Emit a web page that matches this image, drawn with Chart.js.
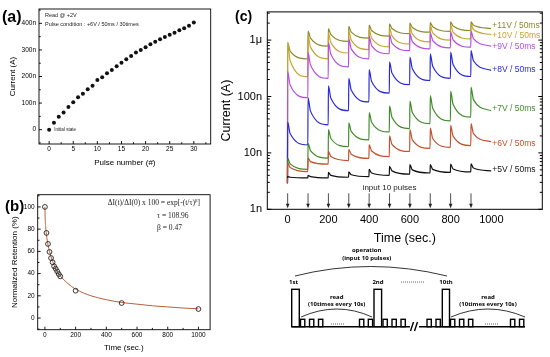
<!DOCTYPE html>
<html>
<head>
<meta charset="utf-8">
<script src="https://cdn.jsdelivr.net/npm/chart.js@4.4.1/dist/chart.umd.min.js"></script>
<style>
  body { margin: 0; width: 550px; height: 357px; background: #fff; position: relative; overflow: hidden; font-family: "Liberation Sans", Arial, sans-serif; }
  canvas, svg, .tag { position: absolute; }
  .tag { font-weight: bold; line-height: 1; }
</style>
</head>
<body>
<canvas id="chartA" width="215" height="170" style="left:0;top:0"></canvas>
<canvas id="chartB" width="215" height="187" style="left:0;top:170px"></canvas>
<canvas id="chartC" width="335" height="248" style="left:215px;top:0"></canvas>
<div class="tag" style="left:2px;top:9px;font-size:16px">(a)</div>
<div class="tag" style="left:5px;top:198px;font-size:15px">(b)</div>
<div class="tag" style="left:235px;top:9px;font-size:14px">(c)</div>

<!-- pulse scheme under panel (c) -->
<svg width="550" height="357" style="left:0;top:0" font-family="'Noto Sans', 'DejaVu Sans', sans-serif" font-weight="bold" font-size="6" text-anchor="middle" dominant-baseline="central">
  <g fill="none" stroke="#000" stroke-width="1.4">
    <path d="M291.7 326.7 H410 M419 326.7 H525"/>
    <rect x="291.7" y="289.3" width="7.6" height="37.4"/>
    <rect x="374" y="289.3" width="7.6" height="37.4"/>
    <rect x="442.3" y="289.3" width="7.2" height="37.4"/>
    <rect x="300.5" y="319.3" width="4.3" height="7.4"/>
    <rect x="309.5" y="319.3" width="4.3" height="7.4"/>
    <rect x="318.5" y="319.3" width="4.3" height="7.4"/>
    <rect x="359.5" y="319.3" width="4.3" height="7.4"/>
    <rect x="368.3" y="319.3" width="4.3" height="7.4"/>
    <rect x="383" y="319.3" width="4.3" height="7.4"/>
    <rect x="392" y="319.3" width="4.3" height="7.4"/>
    <rect x="401" y="319.3" width="4.3" height="7.4"/>
    <rect x="427" y="319.3" width="4.3" height="7.4"/>
    <rect x="436" y="319.3" width="4.3" height="7.4"/>
    <rect x="450.5" y="319.3" width="4.3" height="7.4"/>
    <rect x="459.5" y="319.3" width="4.3" height="7.4"/>
    <rect x="468.5" y="319.3" width="4.3" height="7.4"/>
    <rect x="510.5" y="319.3" width="4.3" height="7.4"/>
    <rect x="519.5" y="319.3" width="4.3" height="7.4"/>
    <path d="M410.5 331 L413.5 322 M414.5 331 L417.5 322"/>
  </g>
  <g fill="none" stroke="#000" stroke-width="0.8">
    <path d="M295 276 Q370 257 447 276"/>
    <path d="M301 317 Q337 301 372 317"/>
    <path d="M451 317 Q488 301 525 317"/>
    <path d="M331 324 H344 M485 324 H499 M401 282 H425" stroke-dasharray="0.8 1.2"/>
  </g>
  <text x="366.7" y="250">operation</text>
  <text x="366.7" y="258.3">(input 10 pulses)</text>
  <text x="293.5" y="282">1st</text>
  <text x="378" y="282">2nd</text>
  <text x="446" y="282">10th</text>
  <text x="336.7" y="296.7">read</text>
  <text x="336.7" y="304">(10times every 10s)</text>
  <text x="488" y="296.7">read</text>
  <text x="488" y="304">(10times every 10s)</text>
</svg>

<script>
// ---- (a) potentiation: current after each +6V pulse, read at +2V (nA)
const pulseNumbers = [0, 1, 2, 3, 4, 5, 6, 7, 8, 9, 10, 11, 12, 13, 14, 15, 16, 17, 18, 19, 20, 21, 22, 23, 24, 25, 26, 27, 28, 29, 30];
const pulseCurrent = [0, 26, 49, 65, 85, 103, 122, 135, 152, 165, 187, 197, 212, 224, 239, 252, 265, 277, 290, 300, 310, 321, 331, 340, 349, 357, 365, 374, 382, 391, 403];
const aTicksX = [0, 5, 10, 15, 20, 25, 30];
const aTicksY = [0, 100, 200, 300, 400];

// ---- (b) retention, measured points and fitted curve (%)
const retentionTime = [0, 10, 20, 30, 40, 50, 60, 70, 80, 90, 100, 200, 500, 1000];
const retention = [100, 76.6, 66.7, 59.5, 54, 50.2, 46.6, 44.4, 42, 39.6, 37.5, 24.6, 13.5, 8.1];
const fitTime = [0, 2, 5, 10, 20, 30, 50, 75, 100, 150, 200, 300, 400, 500, 600, 700, 800, 900, 1000];
const fitValue = [100, 88, 82, 75, 66, 60, 51, 43, 38, 31, 26, 20, 16.5, 14, 12.5, 11, 10, 9, 8.3];
const bTicksX = [0, 200, 400, 600, 800, 1000];
const bTicksY = [0, 20, 40, 60, 80, 100];

// ---- (c) current under 10 pulses of each amplitude (nA)
const pulseTimes = [0, 100, 200, 300, 400, 500, 600, 700, 800, 900];
const traceEnd = 1000;
const midDelay = 12;
const curveLabels = ['+11V / 50ms', '+10V / 50ms', '+9V / 50ms', '+8V / 50ms', '+7V / 50ms', '+6V / 50ms', '+5V / 50ms'];
const curveColors = ['#8c8a2a', '#c8a632', '#b44fe0', '#2b2bd4', '#418a2c', '#c0522e', '#111111'];
const labelLevels = [1830, 1220, 775, 300, 60, 14.4, 5.0];
const startLevel = [2.9, 2.9, 2.9, 2.9, 2.9, 2.9, 3.6];
// peak right after pulse, value ~12 s later, value just before the next pulse
const peak11V = [900, 1450, 1600, 1750, 1850, 1950, 2000, 2050, 2100, 2100];
const mid11V  = [640, 1080, 1250, 1380, 1480, 1600, 1670, 1720, 1770, 1830];
const low11V  = [466, 780, 950, 1080, 1180, 1300, 1380, 1430, 1480, 1600];
const peak10V = [900, 1200, 1350, 1450, 1550, 1650, 1750, 1800, 1850, 1900];
const mid10V  = [430, 750, 900, 1000, 1090, 1190, 1280, 1340, 1390, 1540];
const low10V  = [225, 466, 590, 680, 760, 850, 930, 1000, 1050, 1250];
const peak9V  = [275, 600, 900, 1050, 1150, 1250, 1300, 1350, 1400, 1450];
const mid9V   = [160, 360, 560, 700, 800, 880, 940, 980, 1010, 1060];
const low9V   = [95, 210, 335, 466, 573, 650, 700, 730, 750, 780];
const peak8V  = [35, 95, 155, 210, 300, 410, 500, 573, 610, 650];
const mid8V   = [22, 55, 93, 130, 185, 260, 310, 345, 370, 430];
const low8V   = [13.8, 31.5, 56, 80, 115, 162, 192, 210, 226, 290];
const peak7V  = [8.1, 14.8, 26, 34, 52, 68, 83, 104, 124, 147];
const mid7V   = [6.4, 11, 18, 24, 35, 43, 52, 62, 73, 88];
const low7V   = [5.1, 8.1, 12.9, 17, 23.5, 27, 33, 37, 43, 56];
const peak6V  = [6.7, 8.1, 10.6, 11.5, 14, 20, 26, 27.5, 30.7, 33];
const mid6V   = [5.5, 7.0, 8.6, 9.5, 10.8, 14.2, 17, 18, 19.8, 22];
const low6V   = [4.65, 6.3, 7.3, 8.0, 8.6, 10.6, 12, 12.5, 13.5, 15.8];
const peak5V  = [3.8, 4.0, 4.5, 4.6, 5.1, 5.8, 6.2, 6.2, 6.3, 6.4];
const mid5V   = [3.7, 3.8, 4.0, 4.1, 4.4, 4.8, 5.0, 5.1, 5.2, 5.4];
const low5V   = [3.6, 3.6, 3.7, 3.8, 4.0, 4.2, 4.4, 4.5, 4.6, 4.8];
const cTicksX = [0, 200, 400, 600, 800, 1000];
const cTicksY = [1, 10, 100, 1000];
const inputNoteLevel = 2.4;

Chart.defaults.font.family = '"Liberation Sans", Arial, sans-serif';
Chart.defaults.color = '#000';

// frame round the plot area plus Origin style tick marks
const frameTicks = {
  id: 'frameTicks',
  afterDraw(chart, args, opts) {
    const { ctx, chartArea: a, scales } = chart;
    const dir = opts.inward ? -1 : 1;
    const line = (x1, y1, x2, y2) => { ctx.beginPath(); ctx.moveTo(x1, y1); ctx.lineTo(x2, y2); ctx.stroke(); };
    ctx.save();
    ctx.strokeStyle = '#000';
    ctx.lineWidth = opts.lineWidth || 1;
    ctx.strokeRect(a.left, a.top, a.right - a.left, a.bottom - a.top);
    (opts.x || []).forEach(([v, len]) => {
      const px = scales.x.getPixelForValue(v);
      line(px, a.bottom, px, a.bottom + dir * len);
    });
    (opts.y || []).forEach(([v, len]) => {
      const py = scales.y.getPixelForValue(v);
      line(a.left, py, a.left - dir * len, py);
      if (opts.mirror) line(a.right, py, a.right + dir * len, py);
    });
    ctx.restore();
  }
};

const withMinor = (major, minor, big, small) => major.map(v => [v, big]).concat(minor.map(v => [v, small]));
const setTicks = list => scale => { scale.ticks = list.map(v => ({ value: v })); };
const noGrid = { display: false, drawTicks: false };

// ---------- (a)
new Chart(document.getElementById('chartA'), {
  type: 'scatter',
  data: {
    datasets: [{
      data: pulseNumbers.map((n, i) => ({ x: n, y: pulseCurrent[i] })),
      pointRadius: 2, pointBackgroundColor: '#111', pointBorderWidth: 0
    }]
  },
  options: {
    responsive: false, animation: false,
    layout: { padding: { left: 0, top: 9, right: 4.3, bottom: 0 } },
    plugins: {
      legend: { display: false }, tooltip: { enabled: false },
      frameTicks: {
        lineWidth: 0.9, inward: true,
        x: withMinor(aTicksX, [2.5, 7.5, 12.5, 17.5, 22.5, 27.5, 32.5], 3, 1.8),
        y: withMinor(aTicksY, [-50, 50, 150, 250, 350, 450], 3, 1.8)
      }
    },
    scales: {
      x: {
        type: 'linear', min: -2.1, max: 33.5,
        afterFit: s => { s.height = 26; }, afterBuildTicks: setTicks(aTicksX),
        grid: noGrid, border: { display: false },
        ticks: { padding: 1.5, font: { size: 6.5 }, maxRotation: 0, autoSkip: false, callback: v => String(v) },
        title: { display: true, text: 'Pulse number (#)', font: { size: 8 }, padding: { top: 0, bottom: 2 } }
      },
      y: {
        min: -54, max: 454,
        afterFit: s => { s.width = 39; }, afterBuildTicks: setTicks(aTicksY),
        grid: noGrid, border: { display: false },
        ticks: { padding: 3, font: { size: 6.5 }, callback: v => v === 0 ? '0' : v + 'n' },
        title: { display: true, text: 'Current (A)', font: { size: 8 }, padding: { top: 8, bottom: 0 } }
      }
    }
  },
  plugins: [frameTicks, {
    id: 'notesA',
    afterDraw(chart) {
      const ctx = chart.ctx;
      ctx.save();
      ctx.fillStyle = '#222';
      ctx.textBaseline = 'middle';
      ctx.font = '5.5px "Liberation Sans", Arial, sans-serif';
      ctx.fillText('Read @ +2V', 45, 15);
      ctx.fillText('Pulse condition : +6V / 50ms / 30times', 45, 24);
      ctx.font = '4.6px "Liberation Sans", Arial, sans-serif';
      const p = chart.getDatasetMeta(0).data[0];
      ctx.fillText('Initial state', p.x + 5, p.y + 0.5);
      ctx.restore();
    }
  }]
});

// ---------- (b)
new Chart(document.getElementById('chartB'), {
  type: 'scatter',
  data: {
    datasets: [{
      data: retentionTime.map((t, i) => ({ x: t, y: retention[i] })),
      pointRadius: 2.4, pointBackgroundColor: 'rgba(0,0,0,0)', pointBorderColor: '#222', pointBorderWidth: 0.9
    }, {
      data: fitTime.map((t, i) => ({ x: t, y: fitValue[i] })),
      showLine: true, pointRadius: 0, borderColor: '#b5603a', borderWidth: 1,
      cubicInterpolationMode: 'monotone'
    }]
  },
  options: {
    responsive: false, animation: false,
    layout: { padding: { left: 0, top: 24.7, right: 4.3, bottom: 0 } },
    plugins: {
      legend: { display: false }, tooltip: { enabled: false },
      frameTicks: {
        lineWidth: 0.9, inward: true,
        x: withMinor(bTicksX, [100, 300, 500, 700, 900], 3, 1.8),
        y: withMinor(bTicksY, [-10, 10, 30, 50, 70, 90, 110], 3, 1.8)
      }
    },
    scales: {
      x: {
        type: 'linear', min: -47, max: 1076,
        afterFit: s => { s.height = 27.3; }, afterBuildTicks: setTicks(bTicksX),
        grid: noGrid, border: { display: false },
        ticks: { padding: 1.5, font: { size: 6.5 }, maxRotation: 0, autoSkip: false, callback: v => String(v) },
        title: { display: true, text: 'Time (sec.)', font: { size: 8 }, padding: { top: 0, bottom: 4 } }
      },
      y: {
        min: -10.5, max: 111,
        afterFit: s => { s.width = 37.7; }, afterBuildTicks: setTicks(bTicksY),
        grid: noGrid, border: { display: false },
        ticks: { padding: 3, font: { size: 6.5 } },
        title: { display: true, text: 'Normalized Retention (%)', font: { size: 8 }, padding: { top: 10, bottom: 0 } }
      }
    }
  },
  plugins: [frameTicks, {
    id: 'notesB',
    afterDraw(chart) {
      const ctx = chart.ctx;
      const serif = size => size + 'px "Liberation Serif", "DejaVu Serif", serif';
      ctx.save();
      ctx.fillStyle = '#222';
      ctx.textBaseline = 'middle';
      const head = 'ΔI(t)/ΔI(0) x 100 = exp[-(t/τ)';
      ctx.font = serif(7.5);
      const w1 = ctx.measureText(head).width, w3 = ctx.measureText(']').width;
      ctx.font = serif(5);
      const w2 = ctx.measureText('β').width;
      let x = 200 - (w1 + w2 + w3);
      ctx.font = serif(7.5);
      ctx.fillText(head, x, 33);
      ctx.font = serif(5);
      ctx.fillText('β', x + w1, 30.5);
      ctx.font = serif(7.5);
      ctx.fillText(']', x + w1 + w2, 33);
      ctx.fillText('τ = 108.96', 157, 46);
      ctx.fillText('β = 0.47', 157, 58);
      ctx.restore();
    }
  }]
});

// ---------- (c)
const seriesC = [
  [peak11V, mid11V, low11V], [peak10V, mid10V, low10V], [peak9V, mid9V, low9V],
  [peak8V, mid8V, low8V], [peak7V, mid7V, low7V], [peak6V, mid6V, low6V], [peak5V, mid5V, low5V]
];
function decayTrace(start, peak, mid, low) {
  const pts = [{ x: pulseTimes[0] - 1, y: start }];
  pulseTimes.forEach((t, k) => {
    const next = k + 1 < pulseTimes.length ? pulseTimes[k + 1] : traceEnd;
    pts.push({ x: t, y: peak[k] }, { x: t + midDelay, y: mid[k] }, { x: next - 1, y: low[k] });
  });
  return pts;
}
const logMinor = [];
[1, 10, 100, 1000].forEach(d => { for (let m = 2; m <= 9; m++) if (m * d < 3160) logMinor.push(m * d); });

new Chart(document.getElementById('chartC'), {
  type: 'line',
  data: {
    datasets: seriesC.map((s, i) => ({
      label: curveLabels[i],
      data: decayTrace(startLevel[i], s[0], s[1], s[2]),
      borderColor: curveColors[i], borderWidth: 1.2, pointRadius: 0,
      cubicInterpolationMode: 'monotone', fill: false
    })).reverse()
  },
  options: {
    responsive: false, animation: false,
    layout: { padding: { left: 0, top: 7, right: 7.7, bottom: 0 } },
    plugins: {
      legend: { display: false }, tooltip: { enabled: false },
      frameTicks: {
        lineWidth: 1, inward: true, mirror: true,
        y: withMinor(cTicksY, logMinor, 4, 2.5)
      }
    },
    scales: {
      x: {
        type: 'linear', min: -100, max: 1250,
        afterFit: s => { s.height = 38.7; }, afterBuildTicks: setTicks(cTicksX),
        grid: noGrid, border: { display: false },
        ticks: { padding: 4, font: { size: 11 }, maxRotation: 0, autoSkip: false, callback: v => String(v) },
        title: { display: true, text: 'Time (sec.)', font: { size: 12.5 }, padding: { top: 0, bottom: 2 } }
      },
      y: {
        type: 'logarithmic', min: 1, max: 3160,
        afterFit: s => { s.width = 52.3; }, afterBuildTicks: setTicks(cTicksY),
        grid: noGrid, border: { display: false },
        ticks: { padding: 5.3, font: { size: 11 }, callback: v => ({ 1: '1n', 10: '10n', 100: '100n', 1000: '1μ' })[v] },
        title: { display: true, text: 'Current (A)', font: { size: 12.5 }, padding: { top: 4.3, bottom: 0 } }
      }
    }
  },
  plugins: [frameTicks, {
    id: 'notesC',
    afterDraw(chart) {
      const { ctx, chartArea: a, scales: { x, y } } = chart;
      ctx.save();
      ctx.textBaseline = 'middle';
      ctx.font = '8.5px "Liberation Sans", Arial, sans-serif';
      curveLabels.forEach((txt, i) => {
        ctx.fillStyle = curveColors[i];
        ctx.fillText(txt, x.getPixelForValue(traceEnd) + 1, y.getPixelForValue(labelLevels[i]));
      });
      ctx.fillStyle = '#222';
      ctx.font = '8px "Liberation Sans", Arial, sans-serif';
      ctx.textAlign = 'center';
      ctx.fillText('input 10 pulses', x.getPixelForValue(500), y.getPixelForValue(inputNoteLevel));
      ctx.strokeStyle = '#222';
      ctx.lineWidth = 0.8;
      pulseTimes.forEach(t => {
        const px = x.getPixelForValue(t);
        ctx.beginPath(); ctx.moveTo(px, a.bottom - 16); ctx.lineTo(px, a.bottom - 4); ctx.stroke();
        ctx.beginPath(); ctx.moveTo(px - 1.8, a.bottom - 5.5); ctx.lineTo(px + 1.8, a.bottom - 5.5); ctx.lineTo(px, a.bottom - 1); ctx.closePath(); ctx.fill();
      });
      ctx.restore();
    }
  }]
});
</script>
</body>
</html>
